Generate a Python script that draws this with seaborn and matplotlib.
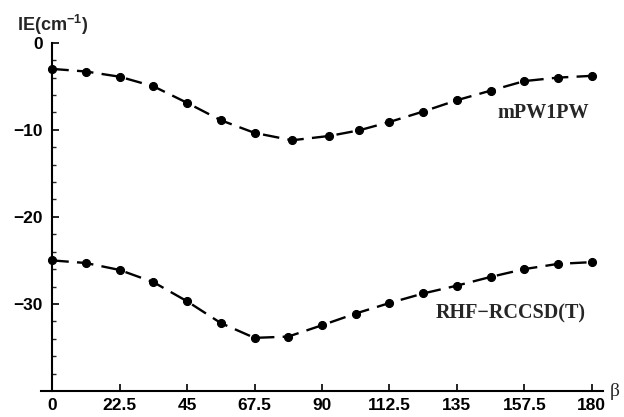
import numpy as np
import pandas as pd
import matplotlib
matplotlib.use("Agg")
import matplotlib.pyplot as plt
import seaborn as sns
from matplotlib.ticker import FixedLocator

# ---- data ----
beta_mpw = [0, 11.25, 22.5, 33.75, 45, 56.25, 67.5, 80, 92.5, 102.5, 112.5,
            123.75, 135, 146.25, 157.5, 168.75, 180]
ie_mpw = [-3.0, -3.3, -3.9, -5.0, -6.9, -8.9, -10.35, -11.2, -10.7, -10.05,
          -9.1, -7.9, -6.6, -5.5, -4.4, -4.0, -3.8]

beta_rhf = [0, 11.25, 22.5, 33.75, 45, 56.25, 67.5, 78.75, 90, 101.25, 112.5,
            123.75, 135, 146.25, 157.5, 168.75, 180]
ie_rhf = [-25.0, -25.3, -26.1, -27.5, -29.7, -32.2, -33.9, -33.75, -32.45,
          -31.1, -29.9, -28.8, -27.9, -26.9, -26.0, -25.4, -25.2]

series_names = ["mPW1PW", "RHF\u2212RCCSD(T)"]
x_ticks = [0, 22.5, 45, 67.5, 90, 112.5, 135, 157.5, 180]
x_ticklabels = ["0", "22.5", "45", "67.5", "90", "112.5", "135", "157.5", "180"]
y_ticks = [0, -10, -20, -30]
y_ticklabels = ["0", "\u221210", "\u221220", "\u221230"]

df = pd.concat([
    pd.DataFrame({"beta": beta_mpw, "IE": ie_mpw, "method": series_names[0]}),
    pd.DataFrame({"beta": beta_rhf, "IE": ie_rhf, "method": series_names[1]}),
])

sns.set_theme(style="white")
plt.rcParams["font.family"] = ["Liberation Sans", "DejaVu Sans"]
plt.rcParams["mathtext.fontset"] = "custom"
plt.rcParams["mathtext.rm"] = "Liberation Sans:bold"
plt.rcParams["mathtext.bf"] = "Liberation Sans:bold"

fig = plt.figure(figsize=(6.24, 4.17), dpi=100)
ax = fig.add_axes([0.066, 0.0624, 0.9, 0.835])

for name in series_names:
    sub = df[df["method"] == name]
    sns.lineplot(data=sub, x="beta", y="IE", ax=ax, color="black",
                 linewidth=1.7, marker="o", markersize=5.8,
                 markeredgecolor="black", markerfacecolor="black",
                 estimator=None, sort=False, legend=False)
for line in ax.lines:
    line.set_dashes([7, 3.5])

ax.set_xlim(-3.7, 183.7)
ax.set_ylim(-40, 0)

for s in ["top", "right"]:
    ax.spines[s].set_visible(False)
ax.spines["left"].set_position(("data", 0))
ax.spines["left"].set_bounds(-40, 0)
ax.spines["left"].set_linewidth(1.5)
ax.spines["bottom"].set_linewidth(1.5)
ax.spines["left"].set_color("black")
ax.spines["bottom"].set_color("black")

ax.xaxis.set_major_locator(FixedLocator(x_ticks))
ax.set_xticklabels(x_ticklabels, fontweight="bold", fontsize=12.5)
ax.yaxis.set_major_locator(FixedLocator(y_ticks))
ax.set_yticklabels(y_ticklabels, fontweight="bold", fontsize=12.5)
ax.yaxis.set_minor_locator(FixedLocator([v for v in range(-38, 0, 2) if v % 10 != 0]))

ax.tick_params(axis="x", which="major", direction="in", length=5, width=1.2,
               pad=5, colors="black", bottom=True)
ax.tick_params(axis="y", which="major", direction="in", length=5, width=1.2,
               pad=7, colors="black", left=True)
ax.tick_params(axis="y", which="minor", direction="in", length=3, width=1.0,
               left=True)
ax.set_xlabel("")
ax.set_ylabel("")

ax.text(163.7, -8.1, series_names[0], family="Liberation Serif", fontweight="bold",
        fontsize=14.5, ha="center", va="center")
ax.text(153, -31.1, series_names[1], family="Liberation Serif", fontweight="bold",
        fontsize=14.5, ha="center", va="center")

fig.text(17 / 624, 1 - 25 / 417, r"IE(cm$^{-1}$)", fontweight="bold",
         fontsize=13, ha="left", va="center")
fig.text(610 / 624, 1 - 391 / 417, "\u03b2", family="Liberation Serif",
         fontsize=14, ha="left", va="center")

fig.savefig("out.png", dpi=100)
